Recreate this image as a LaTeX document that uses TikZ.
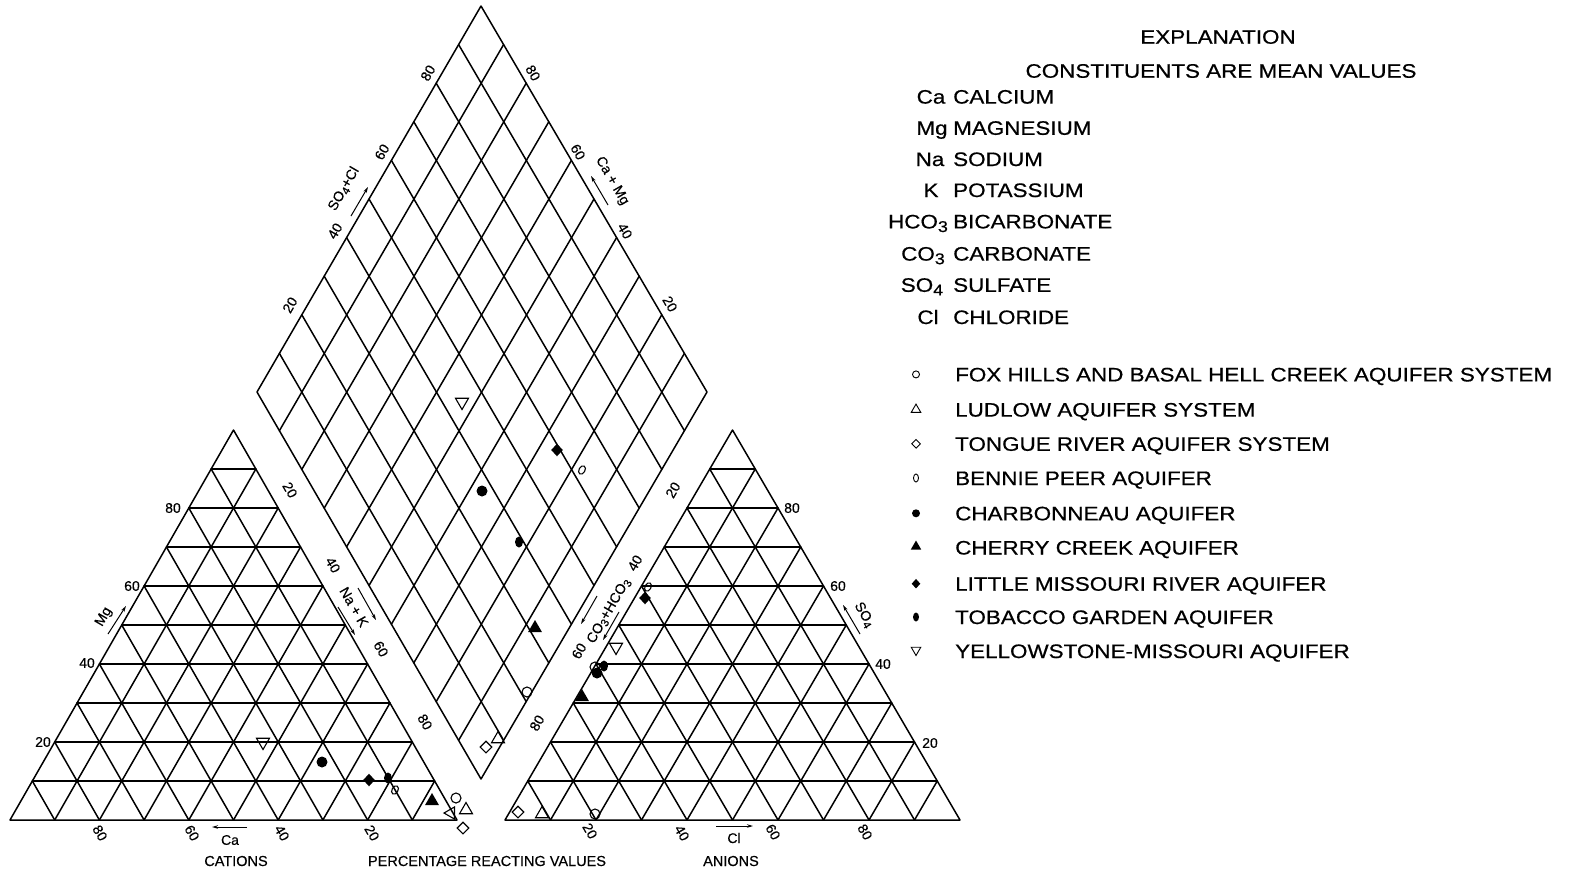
\documentclass[tikz,border=0pt]{standalone}
\usepackage{fontspec}
\setmainfont{Liberation Sans}[FakeBold=0.4]
\newfontfamily\legfont{Liberation Sans}[FakeStretch=1.15,FakeBold=0.6]
\usepackage{graphicx}
\usetikzlibrary{shapes.geometric,arrows.meta,calc}
\newcommand\sbs[1]{\raisebox{-0.35ex}{\scalebox{0.8}{#1}}}
\begin{document}
\begin{tikzpicture}[x=1pt,y=-1pt,
  gridline/.style={line width=1.5pt, line join=round, line cap=round},
  num/.style={font=\fontsize{14}{14}\selectfont, inner sep=0pt},
  axname/.style={font=\fontsize{14}{14}\selectfont, inner sep=0pt},
  bottomlbl/.style={font=\fontsize{14.5}{14.5}\selectfont, inner sep=0pt},
  axarrow/.style={line width=1pt,-{Stealth[length=6pt,width=3.5pt]}},
  legtxt/.style={font=\legfont\fontsize{19.5}{19.5}\selectfont, inner sep=0pt},
  leg/.style={legtxt, anchor=base west},
  legsym/.style={legtxt, anchor=base},
  sym/.style={inner sep=0pt, line width=1.1pt},
  symfox/.style={sym, circle, draw, minimum size=10pt},
  symlud/.style={sym, regular polygon, regular polygon sides=3, draw, minimum size=15pt},
  symtongue/.style={sym, diamond, draw, minimum width=12pt, minimum height=12pt},
  symbennie/.style={sym, ellipse, draw, minimum width=6pt, minimum height=9pt},
  symcharb/.style={sym, circle, fill, minimum size=11pt},
  symcherry/.style={sym, regular polygon, regular polygon sides=3, fill, minimum size=16pt},
  symlm/.style={sym, diamond, fill, minimum width=12pt, minimum height=13pt},
  symtob/.style={sym, ellipse, fill, minimum width=8pt, minimum height=11pt},
  symyel/.style={sym, regular polygon, regular polygon sides=3, shape border rotate=180, draw, minimum size=15pt},
  symleft/.style={sym, regular polygon, regular polygon sides=3, shape border rotate=90, draw, minimum size=14pt}
]
\useasboundingbox (0,0) rectangle (1578,876);

% ---------- frame points ----------
\coordinate (A) at (10,820);   \coordinate (B) at (457,820);  \coordinate (C) at (233.5,430);
\coordinate (A2) at (505,820); \coordinate (B2) at (960,820); \coordinate (C2) at (732.5,430);
\coordinate (T) at (481,6);    \coordinate (L) at (257,392);  \coordinate (R) at (707,392);
\coordinate (D) at (481,779);

% ---------- cation triangle ----------
\draw[gridline] (A) -- (B) -- (C) -- cycle;
\foreach \i in {1,...,9}{
  \pgfmathsetmacro\t{\i/10}
  \pgfmathsetmacro\u{1-\i/10}
  \draw[gridline] ($(A)!\t!(C)$) -- ($(B)!\t!(C)$);
  \draw[gridline] ($(A)!\t!(B)$) -- ($(B)!\u!(C)$);
  \draw[gridline] ($(A)!\t!(B)$) -- ($(A)!\t!(C)$);
}
% ---------- anion triangle ----------
\draw[gridline] (A2) -- (B2) -- (C2) -- cycle;
\foreach \i in {1,...,9}{
  \pgfmathsetmacro\t{\i/10}
  \pgfmathsetmacro\u{1-\i/10}
  \draw[gridline] ($(A2)!\t!(C2)$) -- ($(B2)!\t!(C2)$);
  \draw[gridline] ($(A2)!\t!(B2)$) -- ($(B2)!\u!(C2)$);
  \draw[gridline] ($(A2)!\t!(B2)$) -- ($(A2)!\t!(C2)$);
}
% ---------- diamond ----------
\draw[gridline] (T) -- (L) -- (D) -- (R) -- cycle;
\foreach \i in {1,...,9}{
  \pgfmathsetmacro\t{\i/10}
  \draw[gridline] ($(T)!\t!(L)$) -- ($(R)!\t!(D)$);
  \draw[gridline] ($(T)!\t!(R)$) -- ($(L)!\t!(D)$);
}

% ---------- scale numbers ----------
% cation left edge (Mg)
\node[num] (mg80) at (173,508) {80};
\node[num] (mg60) at (132,586) {60};
\node[num] (mg40) at (87,663) {40};
\node[num] (mg20) at (43,742) {20};
% cation base (Ca)
\node[num,rotate=-60] (ca80) at (100,833) {80};
\node[num,rotate=-60] (ca60) at (192,833) {60};
\node[num,rotate=-60] (ca40) at (282,833) {40};
\node[num,rotate=-60] (ca20) at (372,833) {20};
% left strip (Na+K)
\node[num,rotate=-60] (nk20) at (290,490) {20};
\node[num,rotate=-60] (nk40) at (333,565) {40};
\node[num,rotate=-60] (nk60) at (381,649) {60};
\node[num,rotate=-60] (nk80) at (425,722) {80};
% right strip (CO3+HCO3)
\node[num,rotate=60] (hc20) at (673,490) {20};
\node[num,rotate=60] (hc40) at (635,563) {40};
\node[num,rotate=60] (hc60) at (579,651) {60};
\node[num,rotate=60] (hc80) at (537,723) {80};
% anion base (Cl)
\node[num,rotate=-60] (cl20) at (590,831) {20};
\node[num,rotate=-60] (cl40) at (682,833) {40};
\node[num,rotate=-60] (cl60) at (773,832) {60};
\node[num,rotate=-60] (cl80) at (865,832) {80};
% anion right edge (SO4)
\node[num] (so80) at (792,508) {80};
\node[num] (so60) at (838,586) {60};
\node[num] (so40) at (883,664) {40};
\node[num] (so20) at (930,743) {20};
% diamond upper left (SO4+Cl)
\node[num,rotate=60] (sc80) at (428,73) {80};
\node[num,rotate=60] (sc60) at (382,152) {60};
\node[num,rotate=60] (sc40) at (335,231) {40};
\node[num,rotate=60] (sc20) at (290,305) {20};
% diamond upper right (Ca+Mg)
\node[num,rotate=-60] (cm80) at (533,73) {80};
\node[num,rotate=-60] (cm60) at (578,152) {60};
\node[num,rotate=-60] (cm40) at (625,231) {40};
\node[num,rotate=-60] (cm20) at (670,304) {20};

% ---------- axis names and arrows ----------
\node[axname,rotate=60] (nso4cl) at (344,189) {SO\sbs{4}+Cl};
\coordinate (aso4cla) at (351,216); \coordinate (aso4clb) at (368,187);
\draw[axarrow] (aso4cla) -- (aso4clb);

\node[axname,rotate=-60] (ncamg) at (612,181) {Ca + Mg};
\coordinate (acamga) at (608,205); \coordinate (acamgb) at (591,176);
\draw[axarrow] (acamga) -- (acamgb);

\node[axname,rotate=60] (nmg) at (104,617) {Mg};
\coordinate (amga) at (108,634); \coordinate (amgb) at (126,606);
\draw[axarrow] (amga) -- (amgb);

\node[axname,rotate=-60] (nnak) at (354,607) {Na + K};
\coordinate (anak1a) at (358,588); \coordinate (anak1b) at (376,620);
\coordinate (anak2a) at (338,607); \coordinate (anak2b) at (355,635);
\draw[axarrow] (anak1a) -- (anak1b);
\draw[axarrow] (anak2a) -- (anak2b);

\node[axname,rotate=60] (nco3) at (609,611) {CO\sbs{3}+HCO\sbs{3}};
\coordinate (aco31a) at (597,596); \coordinate (aco31b) at (581,624);
\coordinate (aco32a) at (619,612); \coordinate (aco32b) at (603,640);
\draw[axarrow] (aco31a) -- (aco31b);
\draw[axarrow] (aco32a) -- (aco32b);

\node[axname,rotate=-60] (nso4) at (864,615) {SO\sbs{4}};
\coordinate (aso4a) at (860,634); \coordinate (aso4b) at (843,605);
\draw[axarrow] (aso4a) -- (aso4b);

\node[axname] (nca) at (230,840) {Ca};
\coordinate (acaa) at (247,827); \coordinate (acab) at (212,827);
\draw[axarrow] (acaa) -- (acab);

\node[axname] (ncl) at (734,838) {Cl};
\coordinate (acla) at (716,826); \coordinate (aclb) at (753,826);
\draw[axarrow] (acla) -- (aclb);

\node[bottomlbl] (cations) at (236,861) {CATIONS};
\node[bottomlbl] (prv) at (487,861) {PERCENTAGE REACTING VALUES};
\node[bottomlbl] (anions) at (731,861) {ANIONS};

% ---------- data points: cation triangle ----------
\node[symyel]    (c1) at (263,742) {};
\node[symcharb]  (c2) at (322,762) {};
\node[symlm]     (c3) at (369,780) {};
\node[symtob]    (c4) at (388,778) {};
\node[symbennie, rotate=-30] (c5) at (395,790) {};
\node[symcherry] (c6) at (432,801) {};
\node[symfox]    (c7) at (456,798) {};
\node[symlud]    (c8) at (466,810) {};
\node[symleft]   (c9) at (451,813) {};
\node[symtongue] (c10) at (463,828) {};
% ---------- data points: anion triangle ----------
\node[symtongue] (a1) at (518,812) {};
\node[symlud]    (a2) at (542,814) {};
\node[symfox]    (a3) at (595,814) {};
\node[symcherry] (a4) at (582,697) {};
\node[symfox]    (a5) at (595,667) {};
\node[symcharb]  (a6) at (597,673) {};
\node[symtob]    (a7) at (604,666) {};
\node[symyel]    (a8) at (616,647) {};
\node[symlm]     (a9) at (645,598) {};
\node[symbennie, rotate=-30] (a10) at (648,587) {};
% ---------- data points: diamond ----------
\node[symyel]    (d1) at (462,402) {};
\node[symlm]     (d2) at (557,450) {};
\node[symbennie, rotate=-30] (d3) at (582,470) {};
\node[symcharb]  (d4) at (482,491) {};
\node[symtob]    (d5) at (519,542) {};
\node[symcherry] (d6) at (535,628) {};
\node[symfox]    (d7) at (527,692) {};
\node[symtongue] (d8) at (486,747) {};
\node[symlud]    (d9) at (498,739) {};

% ---------- explanation ----------
\node[legtxt] (expl) at (1218,37) {EXPLANATION};
\node[legtxt] (const) at (1221,71) {CONSTITUENTS ARE MEAN VALUES};

\node[legsym] (kCa) at (931,103.6) {Ca};
\node[leg] (nCa) at (953,103.6) {CALCIUM};
\node[legsym] (kMg) at (932,134.8) {Mg};
\node[leg] (nMg) at (953,134.8) {MAGNESIUM};
\node[legsym] (kNa) at (930,166) {Na};
\node[leg] (nNa) at (953,166) {SODIUM};
\node[legsym] (kK) at (931,197) {K};
\node[leg] (nK) at (953,197) {POTASSIUM};
\node[legsym] (kHCO) at (918,228.4) {HCO\sbs{3}};
\node[leg] (nHCO) at (953,228.4) {BICARBONATE};
\node[legsym] (kCO) at (923,260.6) {CO\sbs{3}};
\node[leg] (nCO) at (953,260.6) {CARBONATE};
\node[legsym] (kSO) at (922,291.8) {SO\sbs{4}};
\node[leg] (nSO) at (953,291.8) {SULFATE};
\node[legsym] (kCl) at (928,324) {Cl};
\node[leg] (nCl) at (953,324) {CHLORIDE};

\node[symfox, minimum size=7pt, line width=0.9pt] (lfox) at (916,374.4) {};
\node[leg] (tfox) at (955,381.4) {FOX HILLS AND BASAL HELL CREEK AQUIFER SYSTEM};
\node[symlud, minimum size=11pt, line width=0.9pt] (llud) at (916,409.6) {};
\node[leg] (tlud) at (955,416.6) {LUDLOW AQUIFER SYSTEM};
\node[symtongue, minimum width=9pt, minimum height=9pt, line width=0.9pt] (lton) at (916,443.8) {};
\node[leg] (tton) at (955,450.8) {TONGUE RIVER AQUIFER SYSTEM};
\node[symbennie, minimum width=5pt, minimum height=8pt, line width=0.9pt] (lben) at (916,478) {};
\node[leg] (tben) at (955,485) {BENNIE PEER AQUIFER};
\node[symcharb, minimum size=8pt] (lcha) at (916,513.3) {};
\node[leg] (tcha) at (955,520.3) {CHARBONNEAU AQUIFER};
\node[symcherry, minimum size=12pt] (lche) at (916,546.5) {};
\node[leg] (tche) at (955,554.5) {CHERRY CREEK AQUIFER};
\node[symlm, minimum width=9pt, minimum height=10pt] (llm) at (916,583.7) {};
\node[leg] (tlm) at (955,590.7) {LITTLE MISSOURI RIVER AQUIFER};
\node[symtob, minimum width=6pt, minimum height=9pt] (ltob) at (916,617) {};
\node[leg] (ttob) at (955,624) {TOBACCO GARDEN AQUIFER};
\node[symyel, minimum size=11pt, line width=0.9pt] (lyel) at (916,650) {};
\node[leg] (tyel) at (955,658) {YELLOWSTONE-MISSOURI AQUIFER};
\end{tikzpicture}
\end{document}
